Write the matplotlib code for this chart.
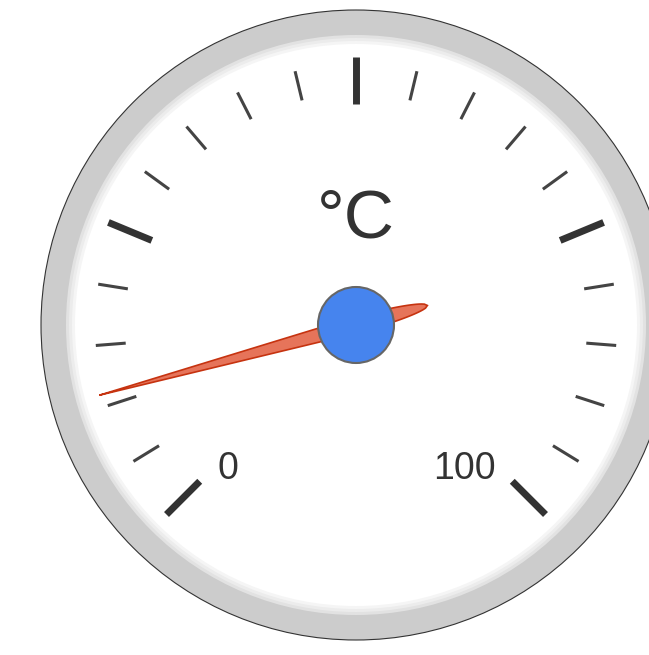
import numpy as np
import matplotlib
matplotlib.use('Agg')
import matplotlib.pyplot as plt
from matplotlib.patches import Circle, Polygon

# datos del indicador
valor = 11
minimo = 0
maximo = 100
etiqueta = '°C'
etiquetas_escala = ['0', '100']
n_mayores = 5
n_menores = 4

W, H = 649, 655
fig = plt.figure(figsize=(W / 100, H / 100), dpi=100)
ax = fig.add_axes([0, 0, 1, 1])
ax.set_xlim(0, W)
ax.set_ylim(H, 0)
ax.axis('off')

cx, cy, R = 356, 325, 315


def punto(ang, r):
    t = np.radians(ang)
    return cx + r * np.sin(t), cy - r * np.cos(t)


def angulo(v):
    return -135 + 270 * (v - minimo) / (maximo - minimo)


# aro exterior
ax.add_patch(Circle((cx, cy), R, facecolor='#cccccc', edgecolor='#333333', lw=0.8))
for r, c in [(290, '#e2e2e2'), (287, '#ececec'), (284, '#f5f5f5'), (281, 'white')]:
    ax.add_patch(Circle((cx, cy), r, facecolor=c, edgecolor='none'))

# marcas mayores y menores
paso = 270 / (n_mayores - 1)
for i in range(n_mayores):
    a = -135 + i * paso
    (x0, y0), (x1, y1) = punto(a, 221), punto(a, 268)
    ax.plot([x0, x1], [y0, y1], color='#333333', lw=5, solid_capstyle='butt')
    if i < n_mayores - 1:
        for j in range(1, n_menores + 1):
            b = a + j * paso / (n_menores + 1)
            (x0, y0), (x1, y1) = punto(b, 231), punto(b, 261)
            ax.plot([x0, x1], [y0, y1], color='#444444', lw=2.2, solid_capstyle='butt')

# textos
ax.text(356, 238, etiqueta, ha='center', va='baseline', fontsize=50,
        family='Liberation Sans', color='#333333')
ax.text(228, 479, etiquetas_escala[0], ha='center', va='baseline', fontsize=27,
        family='Liberation Sans', color='#333333')
ax.text(464, 479, etiquetas_escala[1], ha='center', va='baseline', fontsize=27,
        family='Liberation Sans', color='#333333')

# aguja
a = np.radians(angulo(valor))
u = np.array([np.sin(a), -np.cos(a)])
n = np.array([u[1], -u[0]])
largo, cola, ancho = 266, 74, 8
s1 = np.linspace(-cola, 0, 30)
h1 = ancho * np.sqrt(np.clip(1 - (s1 / cola) ** 2, 0, 1))
s2 = np.linspace(0, largo, 30)
h2 = ancho * (1 - s2 / largo)
s = np.concatenate([s1, s2[1:]])
h = np.concatenate([h1, h2[1:]])
lado1 = [(cx + si * u[0] + hi * n[0], cy + si * u[1] + hi * n[1]) for si, hi in zip(s, h)]
lado2 = [(cx + si * u[0] - hi * n[0], cy + si * u[1] - hi * n[1]) for si, hi in zip(s, h)]
ax.add_patch(Polygon(lado1 + lado2[::-1], closed=True, facecolor='#e6745a',
                     edgecolor='#c63310', lw=1.2))

# centro
ax.add_patch(Circle((cx, cy), 38, facecolor='#4684ee', edgecolor='#666666', lw=1.5))

fig.savefig('out.png', dpi=100)
